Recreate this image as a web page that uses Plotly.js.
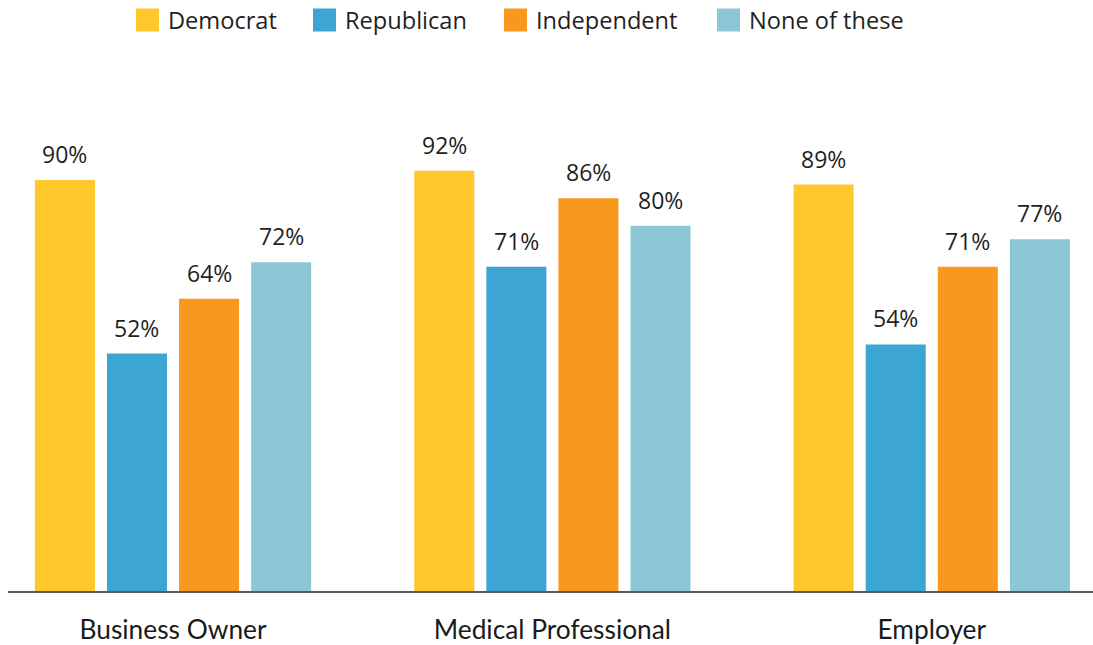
<!DOCTYPE html>
<html>
<head>
<meta charset="utf-8">
<script src="https://cdn.plot.ly/plotly-3.0.1.min.js"></script>
<style>
  html, body { margin: 0; padding: 0; background: #ffffff; }
  #chart { width: 1093px; height: 645px; }
</style>
</head>
<body>
<div id="chart"></div>
<script>
// ---- Data ----
const categories = ['Business Owner', 'Medical Professional', 'Employer'];
const seriesNames = ['Democrat', 'Republican', 'Independent', 'None of these'];
const democrat = [90, 92, 89];
const republican = [52, 71, 54];
const independent = [64, 86, 71];
const noneOfThese = [72, 80, 77];
const seriesValues = [democrat, republican, independent, noneOfThese];
const seriesColors = ['#FEC82C', '#3DA5D4', '#F8981F', '#8DC7D5'];

// ---- Layout constants ----
const W = 1093, H = 645;
const margin = { l: 8, r: 0, t: 60, b: 54 };
const bargap = 0.24;
const bargroupgap = 0.167;
const yMax = 116.27;
const xRange = [-0.435, 2.425];
const plotW = W - margin.l - margin.r;
const plotH = H - margin.t - margin.b;

const traces = seriesNames.map((name, si) => ({
  type: 'bar',
  name: name,
  x: categories,
  y: seriesValues[si],
  marker: { color: seriesColors[si], line: { width: 0 } },
  showlegend: false,
  hoverinfo: 'skip'
}));

// value labels above bars
const slot = (1 - bargap) / seriesNames.length;
const annotations = [];
seriesNames.forEach((name, si) => {
  seriesValues[si].forEach((v, ci) => {
    annotations.push({
      x: ci + (si - (seriesNames.length - 1) / 2) * slot,
      y: v,
      xref: 'x', yref: 'y',
      text: v + '%',
      showarrow: false,
      xanchor: 'center', yanchor: 'bottom',
      yshift: 8,
      font: { family: 'Open Sans, Noto Sans, sans-serif', size: 23, color: '#1f1f1f' }
    });
  });
});

// custom legend (squares + labels) at top
const legendLeftPx = [136, 313, 504, 717];
const legendSquare = 23;
const legendTextGap = 7;
const legendCenterPx = 20;
const pxToPaperX = px => (px - margin.l) / plotW;
const pxToPaperY = py => (H - margin.b - py) / plotH;
const shapes = [];
seriesNames.forEach((name, si) => {
  shapes.push({
    type: 'rect',
    xref: 'paper', yref: 'paper',
    xsizemode: 'pixel', ysizemode: 'pixel',
    xanchor: pxToPaperX(legendLeftPx[si]),
    yanchor: pxToPaperY(legendCenterPx),
    x0: 0, x1: legendSquare,
    y0: -legendSquare / 2, y1: legendSquare / 2,
    fillcolor: seriesColors[si],
    line: { width: 0 }
  });
  annotations.push({
    x: pxToPaperX(legendLeftPx[si] + legendSquare + legendTextGap),
    y: pxToPaperY(legendCenterPx),
    xref: 'paper', yref: 'paper',
    text: name,
    showarrow: false,
    xanchor: 'left', yanchor: 'middle',
    font: { family: 'Open Sans, Noto Sans, sans-serif', size: 23.6, color: '#1f1f1f' }
  });
});

const layout = {
  width: W, height: H,
  margin: margin,
  paper_bgcolor: '#ffffff',
  plot_bgcolor: '#ffffff',
  barmode: 'group',
  bargap: bargap,
  bargroupgap: bargroupgap,
  showlegend: false,
  xaxis: {
    type: 'category',
    range: xRange,
    showline: true,
    linecolor: '#5a5a5a',
    linewidth: 2,
    showgrid: false,
    zeroline: false,
    ticks: '',
    ticklabelstandoff: 14,
    tickfont: { family: 'Lato, sans-serif', size: 26.3, color: '#1a1a1a' },
    fixedrange: true
  },
  yaxis: {
    range: [0, yMax],
    visible: false,
    showgrid: false,
    zeroline: false,
    fixedrange: true
  },
  shapes: shapes,
  annotations: annotations
};

Plotly.newPlot('chart', traces, layout, { displayModeBar: false, staticPlot: true });
</script>
</body>
</html>
